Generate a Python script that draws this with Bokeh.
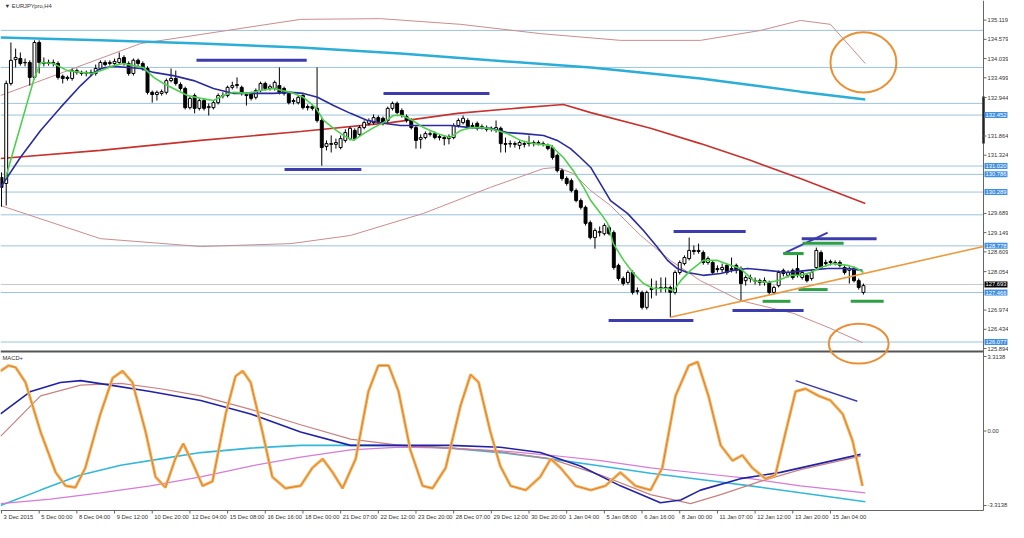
import numpy as np
from bokeh.plotting import figure
from bokeh.models import Range1d, Label
from bokeh.embed import file_html
from bokeh.resources import INLINE

# ---------------- data ----------------
date_labels = ["3 Dec 2015", "5 Dec 00:00", "8 Dec 04:00", "9 Dec 12:00", "10 Dec 20:00",
               "12 Dec 04:00", "15 Dec 08:00", "16 Dec 16:00", "18 Dec 00:00", "21 Dec 07:00",
               "22 Dec 12:00", "23 Dec 20:00", "28 Dec 07:00", "29 Dec 12:00", "30 Dec 20:00",
               "1 Jan 04:00", "5 Jan 08:00", "6 Jan 16:00", "8 Jan 00:00", "11 Jan 07:00",
               "12 Jan 12:00", "13 Jan 20:00", "15 Jan 04:00"]
date_bars = [0, 8, 16, 24, 32, 40, 48, 56, 64, 72, 80, 88, 96, 104, 112, 120, 128, 136, 144,
             152, 160, 168, 176]

O = [130.70,130.53,133.34,134.01,134.04,133.93,133.93,133.51,134.49,133.93,
     133.90,133.93,133.90,133.54,133.48,133.48,133.70,133.65,133.62,133.65,
     133.62,133.76,133.93,133.90,133.90,133.93,134.07,133.90,133.62,133.99,
     133.90,133.76,133.09,133.03,133.06,133.09,133.42,133.48,133.31,133.20,
     132.66,133.00,132.64,132.86,132.66,132.66,132.80,133.00,133.00,133.23,
     133.28,133.23,133.03,133.06,132.95,133.14,133.34,133.20,133.20,133.28,
     133.20,133.06,132.83,132.80,133.00,132.69,132.69,132.64,132.30,131.57,
     131.65,131.63,131.54,131.74,131.79,132.02,131.91,132.10,132.22,132.24,
     132.38,132.36,132.30,132.64,132.78,132.58,132.41,132.30,132.10,131.77,
     131.82,131.91,131.93,131.85,131.82,131.79,131.82,132.16,132.24,132.30,
     132.16,132.22,132.10,132.08,132.05,132.02,132.08,131.65,131.65,131.65,
     131.60,131.65,131.68,131.65,131.68,131.65,131.60,131.54,131.32,130.89,
     130.67,130.61,130.33,130.05,129.86,129.43,129.01,129.15,129.12,129.29,
     129.15,128.23,127.86,127.75,128.03,127.52,127.47,127.05,127.55,127.58,
     127.58,127.61,127.61,127.47,128.03,128.28,128.42,128.65,128.62,128.59,
     128.31,128.31,128.14,128.11,128.23,128.14,128.23,128.14,127.80,127.86,
     127.80,127.80,127.75,127.75,127.47,127.66,128.09,127.95,128.09,128.14,
     127.89,127.95,127.86,128.17,128.59,128.31,128.31,128.31,128.31,128.17,
     128.09,128.14,127.80,127.47]
Hh = [130.84,133.42,134.49,134.32,134.21,134.04,133.99,134.55,134.55,134.07,
      134.01,134.01,133.96,133.59,133.56,133.76,133.76,133.70,133.70,133.73,
      133.87,133.99,133.99,133.99,134.04,134.21,134.13,133.96,134.04,134.04,
      133.96,133.82,133.14,133.14,133.17,133.48,133.76,133.70,133.37,133.25,
      132.97,133.06,132.92,132.92,132.78,132.86,133.06,133.09,133.28,133.39,
      133.51,133.28,133.09,133.11,133.20,133.39,133.39,133.31,133.42,133.79,
      133.25,133.11,132.92,133.00,133.06,132.75,132.75,133.79,132.36,131.74,
      131.88,131.79,131.88,132.05,132.13,132.08,132.16,132.30,132.36,132.47,
      132.44,132.41,132.69,132.83,132.83,132.64,132.47,132.36,132.16,131.91,
      131.99,131.99,131.99,131.91,131.88,131.91,132.22,132.36,132.44,132.36,
      132.24,132.27,132.19,132.16,132.13,132.30,132.13,131.82,131.74,131.71,
      131.74,131.71,131.88,131.74,131.74,131.71,131.65,131.60,131.37,130.95,
      130.73,130.67,130.39,130.11,129.91,129.49,129.27,129.32,129.41,129.35,
      129.21,128.28,127.92,128.09,128.09,127.61,127.52,127.52,127.86,127.80,
      127.89,127.89,127.66,128.09,128.37,128.51,129.01,128.79,128.84,128.65,
      128.48,128.37,128.23,128.28,128.28,128.45,128.28,128.20,127.95,127.97,
      127.89,127.86,127.89,127.80,127.66,128.09,128.14,128.09,128.14,128.56,
      128.09,128.00,128.09,128.73,128.65,128.39,128.39,128.37,128.37,128.23,
      128.20,128.20,127.86,127.72]
Ll = [129.88,129.91,133.28,133.79,133.84,133.82,133.28,133.45,133.62,133.82,
      133.84,133.82,133.45,133.34,133.42,133.42,133.59,133.56,133.54,133.54,
      133.56,133.70,133.82,133.84,133.84,133.87,133.84,133.56,133.56,133.82,
      133.70,133.03,132.80,132.86,133.00,133.03,133.37,133.28,133.14,132.61,
      132.61,132.50,132.58,132.58,132.44,132.61,132.75,132.92,132.95,133.17,
      133.20,133.00,132.72,132.86,132.89,133.09,133.14,133.14,133.14,133.03,
      133.00,132.75,132.75,132.75,132.61,132.58,132.58,132.24,131.03,131.46,
      131.40,131.51,131.49,131.68,131.74,131.74,131.85,132.05,132.16,132.19,
      132.22,132.16,132.24,132.58,132.47,132.38,132.24,132.05,131.51,131.51,
      131.77,131.85,131.77,131.74,131.60,131.63,131.77,132.10,132.19,132.05,
      132.08,132.02,132.05,131.99,131.99,131.96,131.40,131.40,131.54,131.54,
      131.49,131.54,131.57,131.57,131.60,131.57,131.46,131.20,130.84,130.61,
      130.47,130.28,130.00,129.80,129.35,128.96,128.70,129.04,129.07,129.07,
      128.11,127.80,127.66,127.69,127.41,127.41,126.99,126.99,127.30,127.38,
      127.47,127.47,126.77,127.41,127.97,128.23,128.37,128.53,128.56,128.25,
      128.25,127.97,128.03,128.03,127.97,128.03,128.00,127.24,127.66,127.75,
      127.69,127.66,127.66,127.41,127.41,127.61,127.92,127.89,127.83,127.89,
      127.83,127.75,127.80,128.11,128.11,128.20,128.23,128.23,128.17,127.97,
      127.72,127.75,127.55,127.41]
C = [130.42,133.34,133.99,134.07,133.90,133.92,133.51,134.49,133.93,133.90,
     133.93,133.90,133.51,133.48,133.51,133.70,133.65,133.62,133.65,133.62,
     133.76,133.93,133.87,133.93,133.96,134.04,133.90,133.62,133.99,133.90,
     133.76,133.09,133.03,133.09,133.11,133.42,133.48,133.34,133.20,132.66,
     132.92,132.64,132.86,132.64,132.69,132.80,133.00,132.99,133.23,133.28,
     133.31,133.06,133.00,132.92,133.14,133.34,133.20,133.25,133.37,133.09,
     133.06,132.80,132.86,132.95,132.66,132.66,132.64,132.30,131.54,131.65,
     131.63,131.68,131.79,131.96,132.08,131.79,132.10,132.24,132.30,132.38,
     132.27,132.22,132.64,132.78,132.52,132.44,132.30,132.10,131.74,131.82,
     131.93,131.93,131.82,131.82,131.79,131.85,132.16,132.30,132.36,132.10,
     132.13,132.08,132.13,132.05,132.08,132.10,131.65,131.63,131.64,131.63,
     131.68,131.63,131.65,131.68,131.65,131.63,131.51,131.26,130.89,130.67,
     130.53,130.33,130.05,129.86,129.41,129.01,129.21,129.18,129.35,129.12,
     128.17,127.86,127.72,128.03,127.47,127.50,127.05,127.47,127.58,127.59,
     127.61,127.58,127.47,128.03,128.31,128.45,128.65,128.62,128.65,128.31,
     128.42,128.03,128.11,128.17,128.03,128.11,128.09,127.72,127.89,127.89,
     127.79,127.75,127.80,127.47,127.61,128.03,128.00,128.03,127.89,127.95,
     128.03,127.80,128.03,128.65,128.17,128.28,128.34,128.30,128.23,128.03,
     128.14,127.80,127.61,127.66]

# moving averages (bar position, price)
green_i = [0.9,6.8,8.3,11.0,14.0,16.8,19.5,21.0,23.8,25.9,28.0,30.1,32.3,34.4,36.5,39.5,42.3,45.0,47.1,49.3,
           52.2,55.0,57.7,61.4,64.1,66.7,68.4,70.5,72.6,74.7,76.9,79.0,81.1,83.2,85.1,87.3,89.6,92.6,95.3,97.5,
           99.6,102.3,105.3,107.4,110.2,113.0,116.6,119.3,121.4,123.6,125.1,127.2,128.7,129.9,132.1,134.2,136.3,138.4,141.4,142.7,
           144.2,146.3,149.0,152.0,154.8,156.9,159.7,162.6,164.8,167.5,169.6,171.8,173.9,176.6,179.6,181.7,183.0]
green_v = [130.70,133.42,133.93,133.90,133.70,133.65,133.62,133.70,133.84,133.90,133.84,133.79,133.51,133.34,133.20,133.00,132.92,132.86,133.00,133.09,
           133.06,133.14,133.20,133.09,132.95,132.66,132.30,132.08,131.88,131.74,131.93,132.10,132.24,132.44,132.44,132.30,132.10,131.93,131.82,132.02,
           132.10,132.10,132.02,131.93,131.74,131.65,131.60,131.26,130.89,130.42,130.05,129.69,129.41,128.84,128.37,128.00,127.72,127.58,127.58,127.52,
           127.80,128.09,128.37,128.37,128.23,128.14,127.80,127.75,127.80,127.95,127.95,128.03,128.17,128.28,128.23,128.14,128.03]
blue_i = [-0.2,4.0,8.3,12.5,16.8,19.5,21.0,23.8,26.8,29.5,32.3,36.5,40.8,45.0,49.3,53.5,57.7,61.4,64.1,67.1,
          70.5,74.1,77.7,81.1,84.7,89.6,95.3,99.6,103.8,107.4,110.8,115.1,118.0,120.8,122.9,125.1,129.3,132.9,136.3,139.3,
          141.4,143.5,145.6,149.0,152.7,155.4,158.4,162.6,166.9,171.1,175.4,179.6,182.8]
blue_v = [130.42,131.26,132.02,132.66,133.28,133.62,133.76,133.82,133.79,133.76,133.65,133.56,133.42,133.20,133.06,133.06,133.06,133.09,133.06,132.95,
          132.72,132.50,132.30,132.22,132.16,132.16,132.16,132.10,132.08,131.96,131.93,131.88,131.74,131.51,131.26,130.98,130.05,129.69,129.21,128.73,
          128.37,128.14,128.03,127.95,128.00,128.09,128.14,128.09,128.03,128.09,128.14,128.14,128.09]
cyan_i = [-0.2,21.0,42.3,63.5,84.7,103.8,125.1,148.4,169.6,183.4]
cyan_v = [134.63,134.55,134.46,134.35,134.18,133.99,133.79,133.48,133.11,132.89]
red_i = [-0.2,21.0,42.3,63.5,82.6,96.8,110.8,119.3,125.1,137.8,148.4,159.0,169.6,183.4]
red_v = [131.23,131.46,131.74,131.99,132.24,132.50,132.66,132.75,132.52,132.08,131.65,131.18,130.67,129.97]
band_up_i = [-0.2,29.5,63.5,80.5,97.5,114.4,131.4,148.4,161.2,169.6,176.0,183.4]
band_up_v = [133.00,134.46,135.14,135.16,135.00,134.74,134.55,134.55,134.83,135.11,135.00,133.90]
band_lo_i = [-0.2,21.0,42.3,61.4,74.1,89.6,103.8,115.1,118.0,121.4,125.1,129.3,135.7,142.0,148.4,156.9,168.2,176.0,182.8]
band_lo_v = [129.91,128.98,128.76,128.84,129.07,129.69,130.42,130.95,130.98,130.81,130.33,129.91,129.07,128.37,127.80,127.24,126.88,126.46,126.06]

levels = [134.83, 133.79, 132.78, 132.452, 131.020, 130.786, 130.289, 129.65, 128.778, 127.466, 126.077]
marked_levels = [132.452, 131.020, 130.786, 130.289, 128.778, 127.466, 126.077]
last_price = 127.693
axis_ticks = [135.119, 134.579, 134.039, 133.499, 132.944, 131.864, 131.324, 129.689, 129.149,
              128.609, 128.054, 126.974, 126.434, 125.894]

# drawn objects (bar position, price)
navy_x0 = [41.4, 60.1, 81.1, 142.7, 128.9, 155.2, 169.9]
navy_x1 = [64.8, 76.4, 103.6, 158.0, 146.9, 170.3, 185.8]
navy_y = [133.99, 130.92, 133.06, 129.18, 126.68, 126.96, 128.98]
green_x0 = [166.0, 170.1, 161.6, 169.2, 180.3]
green_x1 = [170.3, 178.8, 167.5, 175.4, 187.3]
green_y = [128.56, 128.85, 127.22, 127.55, 127.22]
trend_x = [142.0, 212.1]
trend_y = [126.77, 128.87]

# MACD panel
osc_i = [-0.2,1.5,3.0,5.1,8.3,11.5,13.6,15.7,17.8,21.0,23.6,25.7,27.8,30.6,32.7,34.8,36.9,38.6,40.6,42.7,
         44.8,47.6,49.7,51.2,52.9,55.4,57.5,60.3,63.5,66.0,68.2,70.3,72.4,75.2,77.9,80.0,82.2,84.3,86.8,89.4,
         91.5,94.3,97.5,99.6,101.3,103.8,105.9,108.1,111.3,114.4,116.6,118.7,121.9,125.1,128.2,131.4,134.6,137.8,140.3,143.1,
         145.9,147.8,150.1,152.7,155.2,157.3,159.4,162.2,164.3,166.5,168.6,170.7,173.5,176.0,178.6,180.7,182.8]
osc_v = [2.67,2.91,2.83,2.16,-0.04,-1.84,-2.44,-2.51,-1.64,0.76,2.36,2.67,2.16,-0.04,-2.04,-2.51,-1.24,-0.56,-1.44,-2.44,
         -2.24,0.76,2.44,2.67,2.16,-0.04,-2.04,-2.55,-2.44,-1.64,-1.24,-1.84,-2.55,-1.24,1.76,2.91,2.91,1.76,-0.84,-2.44,
         -2.55,-1.64,1.16,2.51,2.16,-0.04,-1.56,-2.44,-2.63,-2.04,-1.24,-1.64,-2.44,-2.63,-2.44,-1.84,-2.44,-2.63,-1.64,1.56,
         2.91,3.07,1.56,-0.64,-1.32,-1.08,-1.64,-2.12,-1.96,-0.04,1.76,1.88,1.56,1.36,0.76,-0.44,-2.44]
macd_i = [-0.2,6.2,12.5,16.8,23.1,31.6,42.3,52.9,63.5,74.1,84.7,95.3,105.9,114.4,122.9,131.4,139.9,144.2,148.4,156.9,165.4,173.9,182.4]
macd_v = [0.76,1.76,2.16,2.24,2.04,1.76,1.36,0.76,-0.04,-0.64,-0.64,-0.64,-0.72,-0.96,-1.56,-2.44,-3.19,-3.07,-2.63,-2.12,-1.84,-1.44,-1.04]
sig_i = [-0.2,8.3,16.8,25.3,33.8,42.3,52.9,63.5,74.1,84.7,95.3,105.9,116.6,127.2,137.8,146.3,152.7,161.1,169.6,182.4]
sig_v = [-0.24,1.56,2.04,2.12,1.88,1.56,0.96,0.28,-0.36,-0.64,-0.76,-0.92,-1.24,-1.96,-2.83,-3.23,-2.83,-2.24,-1.72,-1.12]
cy2_i = [-0.2,8.3,16.8,25.3,33.8,42.3,52.9,63.5,74.1,84.7,95.3,105.9,116.6,127.2,137.8,148.4,159.0,169.6,183.4]
cy2_v = [-3.31,-2.63,-1.96,-1.52,-1.24,-0.96,-0.76,-0.64,-0.64,-0.64,-0.76,-0.96,-1.24,-1.56,-1.88,-2.16,-2.44,-2.75,-3.15]
mag_i = [-0.2,10.4,21.0,31.6,42.3,52.9,63.5,74.1,84.7,95.3,105.9,116.6,127.2,137.8,148.4,159.0,169.6,183.4]
mag_v = [-3.23,-3.03,-2.75,-2.44,-2.04,-1.56,-1.16,-0.84,-0.72,-0.76,-0.88,-1.08,-1.32,-1.64,-1.88,-2.12,-2.44,-2.75]
macd_ticks = [3.3138, 0.0, -3.3138]
macd_tick_labels = ["3.3138", "0.00", "-3.3138"]

# ---------------- layout helpers (picture pixels -> axis units, decorations only) ----------------
PX = 4.71           # pixels per bar
def bx(px):
    return (px - 1.0) / PX
def py(px):
    return 135.67 - 0.02809 * px
def my(px):
    return (430.5 - px) / 22.48

FONT = "Liberation Sans"
FS = "5.8px"
TXT = "#333333"
W, H = 1008, 522
p = figure(width=W, height=H, output_backend="svg", toolbar_location=None,
           x_range=Range1d(bx(0), bx(W)), y_range=Range1d(py(H), py(0)),
           x_axis_location=None, y_axis_location=None,
           min_border_left=0, min_border_right=0, min_border_top=0, min_border_bottom=0)
p.extra_y_ranges = {"macd": Range1d(my(H), my(0))}
p.grid.visible = False
p.outline_line_color = None
p.background_fill_color = "white"

AX = bx(983)       # right scale line
BOT = py(510)      # bottom time-scale line
XL = bx(0)

for lv in levels:
    p.segment([XL], [lv], [AX], [lv], line_color="#9cc3da", line_width=1)
p.segment([XL], [last_price], [AX], [last_price], line_color="#c8c8c8", line_width=1)
p.segment([XL], [py(351)], [AX], [py(351)], line_color="#555555", line_width=2)

# scales
p.segment([AX], [py(0)], [AX], [BOT], line_color="#666666", line_width=1)
p.segment([XL], [BOT], [AX], [BOT], line_color="#666666", line_width=1)
p.segment([AX], [py(96)], [AX], [py(143)], line_color="#222222", line_width=2.5)
p.segment([AX] * len(axis_ticks), axis_ticks, [bx(986)] * len(axis_ticks), axis_ticks,
          line_color="#666666", line_width=1)
for t in axis_ticks:
    p.add_layout(Label(x=bx(987), y=t, text=f"{t:.3f}", text_font_size=FS, text_font=FONT,
                       text_color=TXT, text_baseline="middle", text_align="left"))
p.segment([AX] * 3, macd_ticks, [bx(986)] * 3, macd_ticks, y_range_name="macd",
          line_color="#666666", line_width=1)
for t, s in zip(macd_ticks, macd_tick_labels):
    p.add_layout(Label(x=bx(987), y=t, y_range_name="macd", text=s, text_font_size=FS,
                       text_font=FONT, text_color=TXT, text_baseline="middle",
                       text_align="left"))
p.segment(date_bars, [BOT] * len(date_bars), date_bars, [py(513)] * len(date_bars),
          line_color="#666666", line_width=1)
for b, t in zip(date_bars, date_labels):
    p.add_layout(Label(x=b + 0.45, y=py(516.5), text=t, text_font_size=FS, text_font=FONT,
                       text_color=TXT, text_baseline="middle", text_align="left"))

# indicator lines under candles
p.line(band_up_i, band_up_v, line_color="#c98d8d", line_width=1)
p.line(band_lo_i, band_lo_v, line_color="#c98d8d", line_width=1)
p.line(cyan_i, cyan_v, line_color="#2aaed8", line_width=2.5)
p.line(red_i, red_v, line_color="#c8322e", line_width=1.6)

idx = np.arange(len(O))
Oa, Ha, La, Ca = map(np.array, (O, Hh, Ll, C))
bull = Ca >= Oa
p.segment(idx, Ha, idx, La, line_color="black", line_width=1)
p.vbar(x=idx[bull], top=Ca[bull], bottom=Oa[bull], width=0.62, fill_color="white",
       line_color="black", line_width=1)
p.vbar(x=idx[~bull], top=Oa[~bull], bottom=Ca[~bull], width=0.62, fill_color="black",
       line_color="black", line_width=1)

p.line(blue_i, blue_v, line_color="#2b2ba0", line_width=1.6)
p.line(green_i, green_v, line_color="#4cd04c", line_width=1.6)

# drawn objects
p.segment(navy_x0, navy_y, navy_x1, navy_y, line_color="#3c3cae", line_width=3)
p.segment([166.0], [128.56], [175.4], [129.15], line_color="#3c3cae", line_width=2)
p.segment(green_x0, green_y, green_x1, green_y, line_color="#2ea043", line_width=3)
trend_end = trend_y[0] + (trend_y[1] - trend_y[0]) * (AX - trend_x[0]) / (trend_x[1] - trend_x[0])
p.segment([trend_x[0]], [trend_y[0]], [AX], [trend_end], line_color="#eb9a3e", line_width=1.6)
p.ellipse(x=[183.0, 182.0], y=[133.93, 126.03], width=[14.0, 12.7], height=[1.69, 1.12],
          fill_color=None, line_color="#eb8f35", line_width=2)

# MACD panel
p.line(cy2_i, cy2_v, y_range_name="macd", line_color="#33b7d9", line_width=1.6)
p.line(mag_i, mag_v, y_range_name="macd", line_color="#d67bd6", line_width=1.2)
p.line(sig_i, sig_v, y_range_name="macd", line_color="#c88080", line_width=1.2)
p.line(macd_i, macd_v, y_range_name="macd", line_color="#2222a8", line_width=1.6)
p.line(osc_i, osc_v, y_range_name="macd", line_color="#f6b460", line_width=3)
p.line(osc_i, osc_v, y_range_name="macd", line_color="#d9822b", line_width=1)
p.line([168.6, 181.7], [2.24, 1.32], y_range_name="macd", line_color="#3c3cae", line_width=1.5)

# labels
p.add_layout(Label(x=bx(4), y=py(5), text="\u25bc EURJPYpro,H4", text_font_size=FS,
                   text_font=FONT, text_color=TXT, text_baseline="middle"))
p.add_layout(Label(x=bx(2), y=py(357), text="MACD+", text_font_size=FS,
                   text_font=FONT, text_color=TXT, text_baseline="middle"))
for lv in marked_levels:
    p.add_layout(Label(x=bx(984), y=lv, text=f"{lv:.3f}", text_font_size=FS, text_font=FONT,
                       text_color="white", text_baseline="middle", background_fill_color="#3f8fe2",
                       padding=1))
p.add_layout(Label(x=bx(984), y=last_price, text=f"{last_price:.3f}", text_font_size=FS,
                   text_font=FONT, text_color="white", text_baseline="middle",
                   background_fill_color="black", padding=1))

open("out.html", "w").write(file_html(p, INLINE))
